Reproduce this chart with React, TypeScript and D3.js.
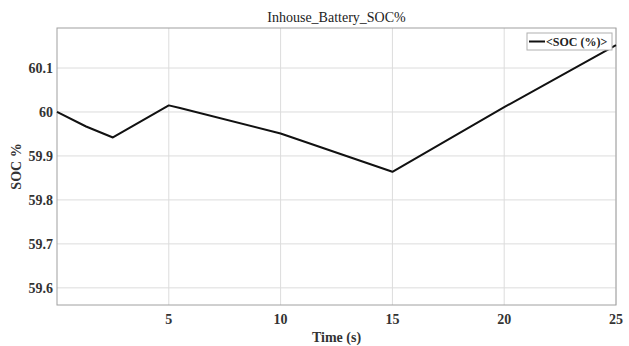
import React, { useEffect, useRef } from 'react';
import * as d3 from 'd3';

// values
const timeS = [0, 1.3, 2.5, 5, 5.5, 10, 15, 20, 25];
const socPct = [60.0, 59.967, 59.942, 60.015, 60.009, 59.951, 59.864, 60.011, 60.152];
const xTicks = [5, 10, 15, 20, 25];
const yTicks = [59.6, 59.7, 59.8, 59.9, 60, 60.1];
const seriesName = '<SOC (%)>';

const W = 629;
const H = 346;
const m = { top: 28, right: 13, bottom: 41, left: 57 };
const serif = 'Liberation Serif, DejaVu Serif, serif';

const App = () => {
  const ref = useRef<SVGSVGElement>(null);

  useEffect(() => {
    const svg = d3.select(ref.current);
    svg.selectAll('*').remove();

    const x = d3.scaleLinear().domain([0, 25]).range([m.left, W - m.right]);
    const y = d3.scaleLinear().domain([59.561, 60.191]).range([H - m.bottom, m.top]);

    svg.append('rect')
      .attr('x', 0).attr('y', 0).attr('width', W).attr('height', H)
      .attr('fill', '#fff');

    // grid
    svg.append('g').selectAll('line')
      .data(xTicks)
      .enter().append('line')
      .attr('x1', (d) => x(d)).attr('x2', (d) => x(d))
      .attr('y1', m.top).attr('y2', H - m.bottom)
      .attr('stroke', '#dcdcdc').attr('stroke-width', 1);

    svg.append('g').selectAll('line')
      .data(yTicks)
      .enter().append('line')
      .attr('x1', m.left).attr('x2', W - m.right)
      .attr('y1', (d) => y(d)).attr('y2', (d) => y(d))
      .attr('stroke', '#dcdcdc').attr('stroke-width', 1);

    // frame
    svg.append('rect')
      .attr('x', m.left).attr('y', m.top)
      .attr('width', W - m.left - m.right).attr('height', H - m.top - m.bottom)
      .attr('fill', 'none').attr('stroke', '#a0a0a0').attr('stroke-width', 1);

    // tick labels
    svg.append('g').selectAll('text')
      .data(xTicks)
      .enter().append('text')
      .attr('x', (d) => x(d))
      .attr('y', H - m.bottom + 19)
      .attr('text-anchor', 'middle')
      .attr('font-family', serif).attr('font-weight', 'bold').attr('font-size', 14)
      .attr('fill', '#333')
      .text((d) => d3.format('d')(d));

    svg.append('g').selectAll('text')
      .data(yTicks)
      .enter().append('text')
      .attr('x', m.left - 4)
      .attr('y', (d) => y(d) + 5)
      .attr('text-anchor', 'end')
      .attr('font-family', serif).attr('font-weight', 'bold').attr('font-size', 14)
      .attr('fill', '#333')
      .text((d) => String(d));

    // data line
    const line = d3.line<number>()
      .x((d, i) => x(timeS[i]))
      .y((d) => y(d));

    svg.append('path')
      .datum(socPct)
      .attr('d', line)
      .attr('fill', 'none')
      .attr('stroke', '#111')
      .attr('stroke-width', 2)
      .attr('stroke-linejoin', 'round');

    // title and axis labels
    svg.append('text')
      .attr('x', (m.left + W - m.right) / 2)
      .attr('y', 22)
      .attr('text-anchor', 'middle')
      .attr('font-family', serif).attr('font-size', 14)
      .attr('fill', '#222')
      .text('Inhouse_Battery_SOC%');

    svg.append('text')
      .attr('x', (m.left + W - m.right) / 2)
      .attr('y', 342)
      .attr('text-anchor', 'middle')
      .attr('font-family', serif).attr('font-weight', 'bold').attr('font-size', 14)
      .attr('fill', '#333')
      .text('Time (s)');

    svg.append('text')
      .attr('transform', `translate(21,${(m.top + H - m.bottom) / 2}) rotate(-90)`)
      .attr('text-anchor', 'middle')
      .attr('font-family', serif).attr('font-weight', 'bold').attr('font-size', 14)
      .attr('fill', '#333')
      .text('SOC %');

    // legend
    const lg = svg.append('g').attr('transform', 'translate(527,33)');
    lg.append('rect')
      .attr('width', 85).attr('height', 17)
      .attr('fill', '#fff').attr('stroke', '#b0b0b0').attr('stroke-width', 1);
    lg.append('line')
      .attr('x1', 2).attr('x2', 18).attr('y1', 8.5).attr('y2', 8.5)
      .attr('stroke', '#111').attr('stroke-width', 2);
    lg.append('text')
      .attr('x', 19).attr('y', 13)
      .attr('font-family', serif).attr('font-weight', 'bold').attr('font-size', 12)
      .attr('fill', '#222')
      .text(seriesName);
  }, []);

  return (
    <svg ref={ref} width={W} height={H} style={{ position: 'absolute', left: 0, top: 0 }}></svg>
  );
};

export default App;
